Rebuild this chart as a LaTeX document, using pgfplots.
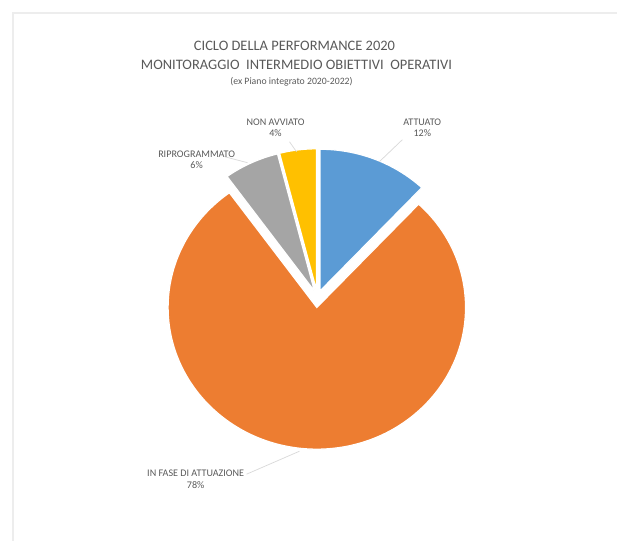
\documentclass[border=0pt]{standalone}
\usepackage{fontspec}
\setmainfont{Carlito}
\usepackage{pgfplots}
\usepackage{pgfplotstable}
\pgfplotsset{compat=1.18}
\definecolor{cblue}{HTML}{5B9BD5}
\definecolor{corange}{HTML}{ED7D31}
\definecolor{cgray}{HTML}{A5A5A5}
\definecolor{cyellow}{HTML}{FFC000}
\definecolor{ctext}{HTML}{595959}
\definecolor{cline}{HTML}{D9D9D9}
\definecolor{cborder}{HTML}{EDEDED}

% pie values (percent) and explosion (px)
\pgfplotstableread{
value explode
12 7
78 10
6 7
4 7
}\piedata

\def\acc{90}
\foreach \i in {0,...,3}{%
  \pgfplotstablegetelem{\i}{value}\of\piedata
  \pgfmathsetmacro\nxt{\acc-\pgfplotsretval*3.6}%
  \expandafter\xdef\csname s\i\endcsname{\acc}%
  \expandafter\xdef\csname e\i\endcsname{\nxt}%
  \pgfplotstablegetelem{\i}{explode}\of\piedata
  \expandafter\xdef\csname x\i\endcsname{\pgfplotsretval}%
  \global\let\acc\nxt
}

% radii in px: 149 (x), 142 (y); 1px = 12/618 cm
\newcommand\slice[4]{%
  \fill[#4, draw=white, line width=0.7pt]
    (axis cs:{318+#3*cos((#1+#2)/2)},{298-#3*sin((#1+#2)/2)})
    -- ++(#1:2.8932cm and 2.7573cm) arc[start angle=#1, end angle=#2, x radius=2.8932cm, y radius=2.7573cm] -- cycle;%
}

\begin{document}
\begin{tikzpicture}
\begin{axis}[
  scale only axis, width=12cm, height=10.5243cm,
  xmin=0, xmax=618, ymin=0, ymax=542, y dir=reverse,
  hide axis, clip=false]
\path (rel axis cs:0,0) rectangle (rel axis cs:1,1);
\draw[cborder, line width=1.2pt] (axis cs:13,542) -- (axis cs:13,13) -- (axis cs:618,13);

\edef\tmp{\noexpand\slice{\csname s0\endcsname}{\csname e0\endcsname}{\csname x0\endcsname}{cblue}}\tmp
\edef\tmp{\noexpand\slice{\csname s1\endcsname}{\csname e1\endcsname}{\csname x1\endcsname}{corange}}\tmp
\edef\tmp{\noexpand\slice{\csname s2\endcsname}{\csname e2\endcsname}{\csname x2\endcsname}{cgray}}\tmp
\edef\tmp{\noexpand\slice{\csname s3\endcsname}{\csname e3\endcsname}{\csname x3\endcsname}{cyellow}}\tmp

% titles
\node[text=ctext, font=\fontsize{8}{9}\selectfont] at (axis cs:295,46) {CICLO DELLA PERFORMANCE 2020};
\node[text=ctext, font=\fontsize{8}{9}\selectfont] at (axis cs:297,65) {MONITORAGGIO\ \ INTERMEDIO OBIETTIVI\ \ OPERATIVI};
\node[text=ctext, font=\fontsize{5.4}{6}\selectfont] at (axis cs:292,82) {(ex Piano integrato 2020-2022)};

% leader lines
\draw[cline, line width=0.4pt] (axis cs:403,140) -- (axis cs:380,162);
\draw[cline, line width=0.4pt] (axis cs:290,142) -- (axis cs:297,152);
\draw[cline, line width=0.4pt] (axis cs:225,157) -- (axis cs:248,163);
\draw[cline, line width=0.4pt] (axis cs:247,475) -- (axis cs:300,452);

% data labels
\tikzset{dl/.style={text=ctext, font=\fontsize{5.6}{6.2}\selectfont, align=center, inner sep=1pt}}
\node[dl] at (axis cs:423,128) {ATTUATO\\12\%};
\node[dl] at (axis cs:276,128) {NON AVVIATO\\4\%};
\node[dl] at (axis cs:197,160) {RIPROGRAMMATO\\6\%};
\node[dl] at (axis cs:196,480) {IN FASE DI ATTUAZIONE\\78\%};
\end{axis}
\end{tikzpicture}
\end{document}
